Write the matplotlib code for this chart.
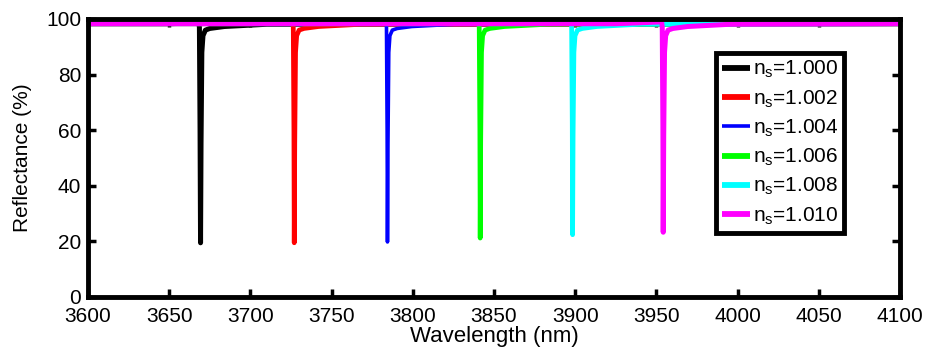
import matplotlib
matplotlib.use("Agg")
import matplotlib.pyplot as plt

plt.rcParams['font.family'] = ['Liberation Sans', 'DejaVu Sans']
plt.rcParams['mathtext.fontset'] = 'custom'
plt.rcParams['mathtext.rm'] = 'Liberation Sans'
plt.rcParams['mathtext.it'] = 'Liberation Sans'

labels = [r"n$_{\rm s}$=1.000", r"n$_{\rm s}$=1.002", r"n$_{\rm s}$=1.004",
          r"n$_{\rm s}$=1.006", r"n$_{\rm s}$=1.008", r"n$_{\rm s}$=1.010"]
colors = ["#000000", "#ff0000", "#0000ff", "#00ff00", "#00ffff", "#ff00ff"]
widths = [3.6, 3.4, 2.6, 3.4, 3.4, 3.6]

wl_000 = [3600, 3650, 3666.0, 3668.0, 3668.6, 3669.0, 3669.3, 3669.6, 3670.1, 3670.8, 3672.3, 3675.0, 3684.0, 3710.0, 4100]
r_000 = [98.3, 98.3, 98.6, 99.4, 97.0, 60.0, 19.5, 55.0, 88.0, 94.0, 96.0, 96.6, 97.3, 98.1, 98.3]

wl_002 = [3600, 3700, 3723.8, 3725.8, 3726.4, 3726.8, 3727.0, 3727.3, 3727.8, 3728.5, 3730.0, 3733.0, 3742.0, 3768.0, 4100]
r_002 = [98.3, 98.3, 98.7, 99.6, 97.0, 60.0, 19.5, 55.0, 88.0, 94.0, 96.0, 96.6, 97.3, 98.1, 98.3]

wl_004 = [3600, 3760, 3781.2, 3783.2, 3783.8, 3784.2, 3784.4, 3784.7, 3785.2, 3785.9, 3787.4, 3790.4, 3799.4, 3825.4, 4100]
r_004 = [98.3, 98.3, 98.7, 99.7, 97.0, 60.0, 19.8, 55.0, 88.0, 94.0, 96.0, 96.6, 97.3, 98.1, 98.3]

wl_006 = [3600, 3815, 3838.3, 3840.3, 3840.9, 3841.3, 3841.5, 3841.8, 3842.3, 3843.0, 3844.5, 3847.5, 3856.5, 3882.5, 4100]
r_006 = [98.3, 98.3, 98.8, 99.8, 97.0, 60.0, 21.2, 56.0, 88.0, 94.0, 96.0, 96.6, 97.3, 98.1, 98.3]

wl_008 = [3600, 3870, 3895.2, 3897.2, 3897.8, 3898.2, 3898.4, 3898.7, 3899.2, 3899.9, 3901.4, 3904.4, 3913.4, 3939.4, 4100]
r_008 = [98.3, 98.3, 98.8, 99.9, 97.0, 62.0, 22.4, 58.0, 88.0, 94.0, 96.0, 96.6, 97.3, 98.1, 98.3]

wl_010 = [3600, 3925, 3951.0, 3953.0, 3953.6, 3954.0, 3954.2, 3954.5, 3955.0, 3955.7, 3957.2, 3960.2, 3969.2, 3995.2, 4100]
r_010 = [98.3, 98.3, 98.9, 100.0, 97.0, 62.0, 23.3, 58.0, 88.0, 94.0, 96.0, 96.6, 97.3, 98.1, 98.3]

wavelengths = [wl_000, wl_002, wl_004, wl_006, wl_008, wl_010]
reflectances = [r_000, r_002, r_004, r_006, r_008, r_010]

xticks = [3600, 3650, 3700, 3750, 3800, 3850, 3900, 3950, 4000, 4050, 4100]
yticks = [0, 20, 40, 60, 80, 100]

fig = plt.figure(figsize=(9.27, 3.5), dpi=100)
ax = fig.add_axes([88/927, 1 - 297/350, 812/927, 278/350])

for wl, r, c, lab, lw in zip(wavelengths, reflectances, colors, labels, widths):
    ax.plot(wl, r, color=c, lw=lw, label=lab, solid_joinstyle='round', solid_capstyle='round')

ax.set_xlim(3600, 4100)
ax.set_ylim(0, 100)
ax.set_xticks(xticks)
ax.set_yticks(yticks)
ax.tick_params(direction='in', length=6, width=2.5, labelsize=15, top=True, right=True)
ax.tick_params(axis='x', pad=7)
ax.tick_params(axis='y', pad=5)
for s in ax.spines.values():
    s.set_linewidth(3.5)
    s.set_color('black')

ax.set_xlabel("Wavelength (nm)", fontsize=16, labelpad=0)
ax.set_ylabel("Reflectance (%)", fontsize=15, labelpad=10)

leg = ax.legend(loc='upper left', bbox_to_anchor=(0.773, 0.878), fontsize=15,
                handlelength=1.35, handletextpad=0.12, labelspacing=0.38,
                borderpad=0.3, borderaxespad=0, fancybox=False, framealpha=1,
                edgecolor='black')
leg.get_frame().set_linewidth(3.5)
for line in leg.get_lines():
    line.set_linewidth(4.2 if line.get_color() != "#0000ff" else 2.6)
    line.set_solid_capstyle('butt')

fig.savefig("out.png", dpi=100)
